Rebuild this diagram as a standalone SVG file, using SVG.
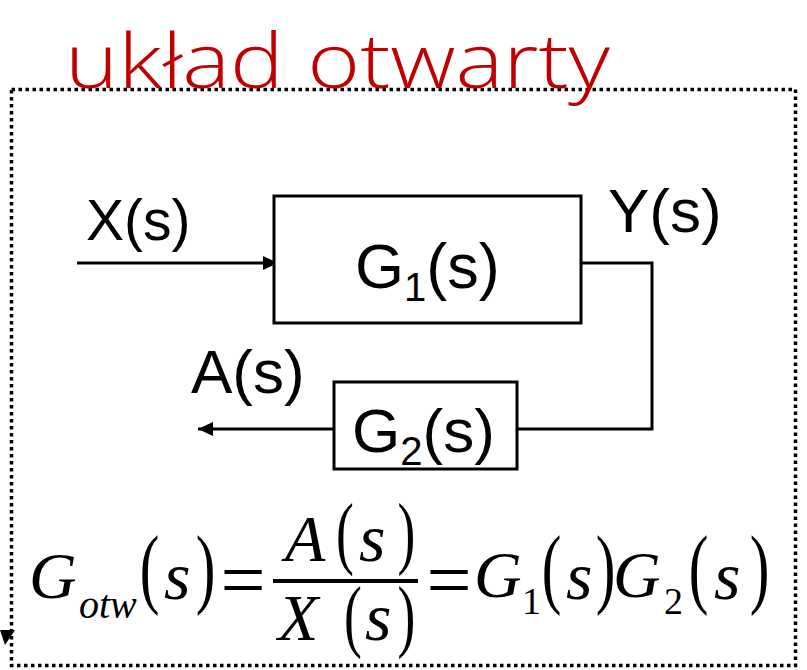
<svg xmlns="http://www.w3.org/2000/svg" width="807" height="670" viewBox="0 0 807 670">
<defs>
<style>
.lbl{font-family:"Liberation Sans",Arial,sans-serif;fill:#000}
.m{font-family:"Liberation Serif","Times New Roman",serif;font-style:italic;fill:#000}
.u{font-family:"Liberation Serif","Times New Roman",serif;fill:#000}
.box{fill:#fff;stroke:#000;stroke-width:3}
.ln{fill:none;stroke:#000;stroke-width:3}
.hand{font-family:"Open Sans","Noto Sans",sans-serif;font-weight:300;fill:#c00000}
</style>
<marker id="ah" markerUnits="userSpaceOnUse" markerWidth="16" markerHeight="14" refX="15" refY="7" orient="auto">
<path d="M0,0 L15,7 L0,14 Z" fill="#000"/>
</marker>
</defs>
<rect width="807" height="670" fill="#fff"/>
<rect x="11.5" y="89.5" width="784" height="576" fill="none" stroke="#000" stroke-width="3.5" stroke-dasharray="3.5 3.5"/>
<path d="M0,630 L15,630 L5,645 Z" fill="#000"/>
<g id="title">
<text class="hand" x="65" y="88" font-size="76" textLength="545" lengthAdjust="spacingAndGlyphs">układ otwarty</text>
</g>
<g id="connectors">
<line class="ln" x1="77" y1="263" x2="278" y2="263" marker-end="url(#ah)"/>
<polyline class="ln" points="581,263 652,263 652,429 517,429"/>
<line class="ln" x1="333" y1="429" x2="198" y2="429" marker-end="url(#ah)"/>
</g>
<g id="G1">
<rect class="box" x="274" y="196" width="307" height="127"/>
<text class="lbl" x="355" y="288" font-size="63">G<tspan font-size="40" dy="13">1</tspan><tspan dy="-13">(s)</tspan></text>
</g>
<g id="G2">
<rect class="box" x="334" y="382" width="183" height="87"/>
<text class="lbl" x="352" y="452" font-size="62">G<tspan font-size="40" dy="13">2</tspan><tspan dy="-13">(s)</tspan></text>
</g>
<g id="labels">
<text class="lbl" x="86" y="240" font-size="57">X(s)</text>
<text class="lbl" x="608" y="232" font-size="62">Y(s)</text>
<text class="lbl" x="191" y="393" font-size="62">A(s)</text>
</g>
<g id="formula">
<text class="m" x="29" y="598" font-size="66">G</text>
<text class="m" x="79" y="618" font-size="40">otw</text>
<text class="u" transform="translate(149.5,597) scale(0.67,1)" text-anchor="middle" font-size="88">(</text>
<text class="m" x="164" y="599" font-size="68">s</text>
<text class="u" transform="translate(205.5,597) scale(0.67,1)" text-anchor="middle" font-size="88">)</text>
<text class="u" x="243" y="607" text-anchor="middle" font-size="80">=</text>
<line x1="273" y1="581" x2="418" y2="581" stroke="#000" stroke-width="4"/>
<text class="m" x="285" y="561" font-size="66">A</text>
<text class="u" transform="translate(345,559) scale(0.67,1)" text-anchor="middle" font-size="80">(</text>
<text class="m" x="359" y="561" font-size="68">s</text>
<text class="u" transform="translate(406.5,559) scale(0.67,1)" text-anchor="middle" font-size="80">)</text>
<text class="m" x="278" y="640" font-size="66">X</text>
<text class="u" transform="translate(353,642) scale(0.67,1)" text-anchor="middle" font-size="80">(</text>
<text class="m" x="365" y="640" font-size="68">s</text>
<text class="u" transform="translate(406.5,642) scale(0.67,1)" text-anchor="middle" font-size="80">)</text>
<text class="u" x="449" y="607" text-anchor="middle" font-size="80">=</text>
<text class="m" x="474" y="597" font-size="66">G</text>
<text class="u" x="522" y="614" font-size="38">1</text>
<text class="u" transform="translate(551.5,597) scale(0.67,1)" text-anchor="middle" font-size="88">(</text>
<text class="m" x="566" y="599" font-size="68">s</text>
<text class="u" transform="translate(605.5,597) scale(0.67,1)" text-anchor="middle" font-size="88">)</text>
<text class="m" x="613" y="597" font-size="66">G</text>
<text class="u" x="664" y="614" font-size="38">2</text>
<text class="u" transform="translate(698.5,597) scale(0.67,1)" text-anchor="middle" font-size="88">(</text>
<text class="m" x="714" y="599" font-size="68">s</text>
<text class="u" transform="translate(759.5,597) scale(0.67,1)" text-anchor="middle" font-size="88">)</text>
</g>
</svg>
